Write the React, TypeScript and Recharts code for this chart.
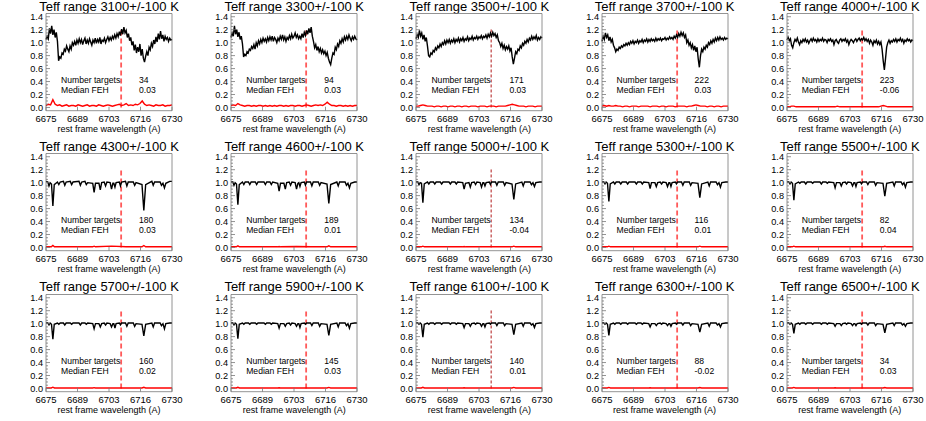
import { LineChart, Line, XAxis, YAxis, ReferenceLine } from "recharts";

// one panel per Teff bin, 5 columns x 3 rows
const temps = [3100, 3300, 3500, 3700, 4000, 4300, 4600, 5000, 5300, 5500, 5700, 5900, 6100, 6300, 6500];
const nTargets = [34, 94, 171, 222, 223, 180, 189, 134, 116, 82, 160, 145, 140, 88, 34];
const medianFeh = ["0.03", "0.03", "0.03", "0.03", "-0.06", "0.03", "0.01", "-0.04", "0.01", "0.04", "0.02", "0.03", "0.01", "-0.02", "0.03"];

const xMajor = [6675, 6688.75, 6702.5, 6716.25, 6730];
const yMajor = [0, 0.2, 0.4, 0.6, 0.8, 1.0, 1.2, 1.4];
const yMinor = [0.05, 0.1, 0.15, 0.25, 0.3, 0.35, 0.45, 0.5, 0.55, 0.65, 0.7, 0.75, 0.85, 0.9, 0.95, 1.05, 1.1, 1.15, 1.25, 1.3, 1.35];
const liLine = 6707.8;

// 0.5 A sampling for the noisy cool-star spectra, 1 A for their error curves
const fineGrid = Array.from({ length: 111 }, (_, i) => 6675 + i * 0.5);
const coarseGrid = Array.from({ length: 56 }, (_, i) => 6675 + i);

const f3100 = [
  1.05, 1.10, 1.06, 1.22, 1.14, 1.26, 1.12, 1.20, 1.08, 1.16,
  1.02, 0.72, 0.78, 0.76, 0.84, 0.82, 0.90, 0.87, 0.95, 0.90,
  0.86, 0.95, 0.90, 1.00, 0.96, 1.02, 0.96, 1.04, 0.99, 1.06,
  1.00, 1.05, 0.97, 1.03, 1.07, 0.98, 1.04, 0.99, 1.06, 1.01,
  0.96, 1.04, 1.00, 1.07, 0.99, 1.05, 1.01, 1.08, 0.98, 1.04,
  1.02, 1.07, 1.00, 1.05, 1.09, 1.03, 1.08, 1.04, 1.10, 1.06,
  1.12, 1.07, 1.14, 1.09, 1.17, 1.11, 1.21, 1.13, 1.24, 1.15,
  1.19, 1.08, 1.14, 1.03, 1.08, 0.96, 1.02, 0.88, 0.97, 0.84,
  0.93, 0.86, 0.98, 0.80, 0.90, 0.76, 0.70, 0.79, 0.86, 0.80,
  0.93, 0.89, 0.99, 0.94, 1.04, 0.98, 1.09, 1.01, 1.14, 1.05,
  1.18, 1.06, 1.12, 1.02, 1.10, 1.05, 1.08, 1.02, 1.07, 1.04, 1.05,
];
const f3300 = [
  1.08, 1.15, 1.10, 1.26, 1.13, 1.20, 1.09, 1.16, 1.05, 1.10,
  0.98, 0.78, 0.82, 0.80, 0.86, 0.84, 0.90, 0.88, 0.94, 0.91,
  0.97, 0.90, 1.00, 0.95, 1.03, 0.98, 1.05, 1.00, 1.07, 1.02,
  1.06, 1.01, 1.08, 1.03, 1.09, 1.04, 1.10, 1.02, 1.08, 1.05,
  1.00, 1.07, 1.03, 1.10, 1.05, 1.12, 1.04, 1.09, 1.02, 1.08,
  1.05, 1.11, 1.06, 1.13, 1.07, 1.10, 1.15, 1.08, 1.12, 1.06,
  1.10, 1.06, 1.14, 1.08, 1.16, 1.11, 1.19, 1.13, 1.22, 1.15,
  1.24, 1.10, 1.02, 0.92, 0.97, 0.88, 0.94, 0.86, 0.91, 0.84,
  0.89, 0.83, 0.87, 0.80, 0.85, 0.76, 0.70, 0.66, 0.76, 0.84,
  0.82, 0.93, 0.89, 0.98, 0.94, 1.03, 0.99, 1.06, 1.01, 1.09,
  1.04, 1.10, 1.05, 1.12, 1.07, 1.03, 1.09, 1.05, 1.10, 1.06, 1.04,
];
const f3500 = [
  1.06, 1.12, 1.08, 1.19, 1.10, 1.15, 1.05, 1.12, 1.02, 1.08,
  0.95, 0.80, 0.78, 0.84, 0.82, 0.88, 0.86, 0.92, 0.89, 0.95,
  0.92, 0.98, 0.94, 1.00, 0.97, 1.03, 0.98, 1.04, 1.00, 1.05,
  0.99, 1.04, 1.01, 1.06, 1.00, 1.05, 1.02, 1.07, 1.01, 1.06,
  1.03, 1.08, 1.02, 1.06, 1.04, 1.09, 1.03, 1.07, 1.05, 1.10,
  1.04, 1.08, 1.06, 1.10, 1.05, 1.09, 1.07, 1.11, 1.06, 1.10,
  1.08, 1.12, 1.07, 1.13, 1.09, 1.15, 1.10, 1.16, 1.11, 1.14,
  1.08, 1.12, 1.03, 1.00, 0.94, 0.99, 0.91, 0.96, 0.89, 0.94,
  0.90, 0.95, 0.87, 0.92, 0.78, 0.67, 0.76, 0.86, 0.83, 0.90,
  0.88, 0.95, 0.92, 0.99, 0.96, 1.02, 0.99, 1.05, 1.01, 1.07,
  1.04, 1.10, 1.05, 1.09, 1.06, 1.11, 1.04, 1.08, 1.05, 1.09, 1.07,
];
const f3700 = [
  1.02, 1.10, 1.05, 1.15, 1.08, 1.12, 1.03, 1.09, 1.01, 1.05,
  0.96, 0.92, 0.86, 0.90, 0.88, 0.93, 0.91, 0.95, 0.93, 0.97,
  0.95, 0.99, 0.96, 1.00, 0.97, 1.02, 0.99, 1.03, 0.98, 1.02,
  1.00, 1.04, 0.99, 1.03, 1.01, 1.05, 1.00, 1.04, 1.02, 1.06,
  1.01, 1.05, 1.02, 1.06, 1.03, 1.05, 1.02, 1.07, 1.03, 1.06,
  1.04, 1.07, 1.03, 1.06, 1.05, 1.08, 1.04, 1.07, 1.05, 1.09,
  1.06, 1.08, 1.05, 1.10, 1.07, 1.12, 1.08, 1.14, 1.10, 1.16,
  1.11, 1.15, 1.08, 1.12, 1.00, 1.04, 0.96, 1.00, 0.92, 0.97,
  0.88, 0.95, 0.86, 0.93, 0.75, 0.62, 0.80, 0.90, 0.86, 0.93,
  0.90, 0.96, 0.93, 1.00, 0.97, 1.03, 0.99, 1.05, 1.01, 1.07,
  1.03, 1.08, 1.04, 1.09, 1.05, 1.07, 1.04, 1.08, 1.05, 1.07, 1.06,
];
const f4000 = [
  1.04, 1.08, 1.03, 1.06, 0.96, 0.92, 1.00, 1.05, 1.02, 1.07,
  1.01, 0.97, 1.03, 1.00, 1.05, 1.02, 1.06, 1.01, 1.04, 0.99,
  1.03, 1.06, 1.02, 1.07, 1.03, 1.05, 1.01, 1.06, 1.02, 1.05,
  1.03, 1.07, 1.02, 1.05, 1.04, 1.00, 1.05, 1.03, 1.06, 1.02,
  1.04, 0.97, 1.03, 1.05, 1.01, 0.99, 1.04, 1.06, 1.02, 1.05,
  1.03, 1.06, 1.01, 1.04, 0.97, 1.02, 1.05, 1.03, 1.00, 1.04,
  1.06, 1.02, 1.05, 1.07, 1.03, 1.06, 1.04, 1.08, 1.03, 1.06,
  1.02, 1.05, 0.99, 1.04, 1.01, 0.96, 1.03, 1.00, 1.04, 0.98,
  1.02, 0.97, 1.01, 0.90, 0.72, 0.58, 0.75, 0.93, 1.00, 1.04,
  0.99, 1.03, 1.01, 1.05, 1.02, 1.06, 1.01, 1.05, 1.03, 1.07,
  1.02, 1.05, 0.99, 1.04, 1.02, 1.06, 1.03, 1.05, 1.01, 1.04, 1.03,
];

const r3100 = [
  0.03, 0.05, 0.04, 0.12, 0.05, 0.03, 0.04, 0.02, 0.03, 0.04,
  0.02, 0.03, 0.03, 0.02, 0.04, 0.03, 0.02, 0.03, 0.04, 0.02,
  0.03, 0.03, 0.02, 0.04, 0.03, 0.02, 0.03, 0.04, 0.03, 0.02,
  0.03, 0.04, 0.05, 0.03, 0.04, 0.06, 0.03, 0.04, 0.03, 0.05,
  0.04, 0.06, 0.10, 0.05, 0.03, 0.04, 0.03, 0.02, 0.04, 0.03,
  0.03, 0.04, 0.02, 0.03, 0.03, 0.04,
];
const r3300 = [
  0.03, 0.04, 0.03, 0.06, 0.04, 0.03, 0.02, 0.03, 0.03, 0.02,
  0.03, 0.02, 0.03, 0.03, 0.02, 0.03, 0.02, 0.03, 0.02, 0.03,
  0.02, 0.03, 0.03, 0.02, 0.03, 0.02, 0.03, 0.03, 0.02, 0.03,
  0.03, 0.02, 0.03, 0.04, 0.03, 0.02, 0.03, 0.04, 0.03, 0.04,
  0.03, 0.05, 0.08, 0.05, 0.03, 0.03, 0.02, 0.03, 0.03, 0.02,
  0.03, 0.02, 0.03, 0.02, 0.03, 0.03,
];
const r3500 = [
  0.02, 0.02, 0.03, 0.04, 0.03, 0.02, 0.02, 0.02, 0.01, 0.02,
  0.02, 0.01, 0.02, 0.02, 0.01, 0.02, 0.02, 0.01, 0.02, 0.02,
  0.01, 0.02, 0.02, 0.01, 0.02, 0.02, 0.02, 0.01, 0.02, 0.02,
  0.02, 0.01, 0.02, 0.02, 0.02, 0.01, 0.02, 0.02, 0.02, 0.02,
  0.03, 0.04, 0.05, 0.04, 0.03, 0.02, 0.02, 0.02, 0.01, 0.02,
  0.02, 0.02, 0.01, 0.02, 0.02, 0.02,
];
const r3700 = [
  0.02, 0.03, 0.02, 0.03, 0.02, 0.02, 0.03, 0.02, 0.02, 0.01,
  0.02, 0.02, 0.01, 0.02, 0.02, 0.02, 0.01, 0.02, 0.02, 0.02,
  0.02, 0.01, 0.02, 0.02, 0.02, 0.01, 0.02, 0.02, 0.01, 0.02,
  0.02, 0.02, 0.01, 0.02, 0.02, 0.02, 0.02, 0.01, 0.02, 0.02,
  0.03, 0.04, 0.03, 0.02, 0.02, 0.02, 0.01, 0.02, 0.02, 0.01,
  0.02, 0.02, 0.01, 0.02, 0.02, 0.02,
];
const r4000 = [
  0.01, 0.01, 0.02, 0.02, 0.01, 0.01, 0.01, 0.01, 0.01, 0.01,
  0.01, 0.01, 0.01, 0.01, 0.01, 0.01, 0.01, 0.01, 0.01, 0.01,
  0.01, 0.01, 0.02, 0.01, 0.01, 0.01, 0.01, 0.01, 0.01, 0.01,
  0.01, 0.01, 0.01, 0.01, 0.01, 0.01, 0.01, 0.01, 0.01, 0.01,
  0.01, 0.02, 0.03, 0.02, 0.01, 0.01, 0.01, 0.01, 0.01, 0.01,
  0.01, 0.01, 0.01, 0.01, 0.01, 0.01,
];

// hotter stars: continuum + line cores / shoulders
const lineGrid = [
  6675.0, 6675.8, 6676.3, 6676.8, 6677.4, 6678.0, 6678.6, 6680.0, 6680.6, 6681.2,
  6682.6, 6683.2, 6683.8, 6685.6, 6686.2, 6686.8, 6689.4, 6690.0, 6690.6, 6692.0,
  6692.6, 6693.2, 6695.4, 6696.0, 6696.6, 6698.1, 6698.7, 6699.3, 6700.4, 6701.0,
  6701.6, 6703.0, 6703.6, 6704.2, 6704.6, 6705.1, 6705.6, 6707.0, 6707.5, 6708.0,
  6709.7, 6710.3, 6710.9, 6713.1, 6713.7, 6714.3, 6716.9, 6717.7, 6718.5, 6721.2,
  6721.8, 6722.4, 6724.8, 6725.4, 6726.05, 6726.7, 6727.3, 6729.0, 6730.0,
];
const h4300 = [
  1.02, 1.01, 0.95, 1.00, 0.98, 0.64, 0.97, 1.01, 0.97, 1.01,
  1.02, 0.96, 1.01, 1.02, 0.97, 1.01, 1.02, 0.96, 1.01, 1.02,
  0.97, 1.00, 0.99, 0.85, 0.99, 0.99, 0.89, 1.00, 1.01, 0.95,
  1.01, 1.00, 0.90, 0.99, 0.99, 0.93, 1.00, 1.01, 0.95, 1.01,
  1.02, 0.95, 1.01, 1.01, 0.96, 1.00, 0.97, 0.57, 0.97, 1.02,
  0.96, 1.01, 1.01, 0.96, 0.99, 0.92, 0.99, 1.02, 1.02,
];
const h4600 = [
  1.01, 1.01, 0.96, 1.00, 0.98, 0.66, 0.97, 1.01, 0.97, 1.01,
  1.01, 0.97, 1.01, 1.01, 0.97, 1.01, 1.01, 0.97, 1.01, 1.01,
  0.97, 1.01, 0.99, 0.87, 0.99, 0.99, 0.90, 1.00, 1.01, 0.96,
  1.01, 1.00, 0.90, 0.99, 1.00, 0.94, 1.00, 1.01, 0.96, 1.01,
  1.01, 0.95, 1.01, 1.01, 0.96, 1.00, 0.98, 0.68, 0.97, 1.01,
  0.95, 1.01, 1.01, 0.96, 0.99, 0.92, 0.99, 1.01, 1.01,
];
const h5000 = [
  1.01, 1.01, 0.97, 1.00, 0.99, 0.69, 0.98, 1.01, 0.98, 1.01,
  1.01, 0.98, 1.01, 1.01, 0.98, 1.01, 1.01, 0.98, 1.01, 1.01,
  0.98, 1.01, 1.00, 0.90, 0.99, 1.00, 0.93, 1.00, 1.01, 0.97,
  1.01, 1.00, 0.93, 1.00, 1.00, 0.95, 1.00, 1.01, 0.97, 1.01,
  1.01, 0.96, 1.01, 1.01, 0.96, 1.00, 0.98, 0.74, 0.98, 1.01,
  0.95, 1.01, 1.01, 0.97, 1.00, 0.94, 1.00, 1.01, 1.01,
];
const h5300 = [
  1.01, 1.01, 0.98, 1.01, 0.99, 0.71, 0.98, 1.01, 0.98, 1.01,
  1.01, 0.98, 1.01, 1.01, 0.98, 1.01, 1.01, 0.98, 1.01, 1.01,
  0.98, 1.01, 1.00, 0.91, 1.00, 1.00, 0.94, 1.00, 1.01, 0.98,
  1.01, 1.00, 0.94, 1.00, 1.00, 0.94, 1.00, 1.01, 0.98, 1.01,
  1.01, 0.96, 1.01, 1.01, 0.96, 1.00, 0.99, 0.77, 0.98, 1.01,
  0.95, 1.01, 1.01, 0.97, 1.00, 0.93, 1.00, 1.01, 1.01,
];
const h5500 = [
  1.01, 1.01, 0.98, 1.01, 0.99, 0.73, 0.98, 1.01, 0.99, 1.01,
  1.01, 0.98, 1.01, 1.01, 0.99, 1.01, 1.01, 0.98, 1.01, 1.01,
  0.99, 1.01, 1.00, 0.92, 1.00, 1.00, 0.95, 1.00, 1.01, 0.98,
  1.01, 1.00, 0.95, 1.00, 1.00, 0.94, 1.00, 1.01, 0.98, 1.01,
  1.01, 0.97, 1.01, 1.01, 0.96, 1.00, 0.99, 0.79, 0.99, 1.01,
  0.95, 1.01, 1.01, 0.97, 1.00, 0.93, 1.00, 1.01, 1.01,
];
const h5700 = [
  1.01, 1.01, 0.98, 1.01, 0.99, 0.76, 0.99, 1.01, 0.99, 1.01,
  1.01, 0.98, 1.01, 1.01, 0.99, 1.01, 1.01, 0.98, 1.01, 1.01,
  0.99, 1.01, 1.00, 0.92, 1.00, 1.00, 0.95, 1.00, 1.01, 0.98,
  1.01, 1.00, 0.95, 1.00, 1.00, 0.93, 1.00, 1.01, 0.98, 1.01,
  1.01, 0.96, 1.01, 1.01, 0.96, 1.00, 0.99, 0.81, 0.99, 1.01,
  0.95, 1.01, 1.01, 0.97, 1.00, 0.92, 1.00, 1.01, 1.01,
];
const h5900 = [
  1.01, 1.01, 0.98, 1.01, 0.99, 0.77, 0.99, 1.01, 0.99, 1.01,
  1.01, 0.99, 1.01, 1.01, 0.99, 1.01, 1.01, 0.99, 1.01, 1.01,
  0.99, 1.01, 1.00, 0.93, 1.00, 1.00, 0.96, 1.00, 1.01, 0.98,
  1.01, 1.00, 0.96, 1.00, 1.00, 0.94, 1.00, 1.01, 0.99, 1.01,
  1.01, 0.97, 1.01, 1.01, 0.96, 1.00, 0.99, 0.82, 0.99, 1.01,
  0.95, 1.01, 1.01, 0.97, 1.00, 0.93, 1.00, 1.01, 1.01,
];
const h6100 = [
  1.01, 1.01, 0.99, 1.01, 0.99, 0.79, 0.99, 1.01, 0.99, 1.01,
  1.01, 0.99, 1.01, 1.01, 0.99, 1.01, 1.01, 0.99, 1.01, 1.01,
  0.99, 1.01, 1.00, 0.94, 1.00, 1.00, 0.96, 1.00, 1.01, 0.99,
  1.01, 1.00, 0.96, 1.00, 1.00, 0.95, 1.00, 1.01, 0.99, 1.01,
  1.01, 0.97, 1.01, 1.01, 0.97, 1.00, 0.99, 0.83, 0.99, 1.01,
  0.96, 1.01, 1.01, 0.98, 1.00, 0.94, 1.00, 1.01, 1.01,
];
const h6300 = [
  1.01, 1.01, 0.99, 1.01, 0.99, 0.82, 0.99, 1.01, 0.99, 1.01,
  1.01, 0.99, 1.01, 1.01, 0.99, 1.01, 1.01, 0.99, 1.01, 1.01,
  0.99, 1.01, 1.00, 0.95, 1.00, 1.00, 0.97, 1.00, 1.01, 0.99,
  1.01, 1.00, 0.97, 1.00, 1.00, 0.96, 1.00, 1.01, 0.99, 1.01,
  1.01, 0.98, 1.01, 1.01, 0.97, 1.00, 0.99, 0.87, 0.99, 1.01,
  0.96, 1.01, 1.01, 0.98, 1.00, 0.95, 1.00, 1.01, 1.01,
];
const h6500 = [
  1.01, 1.01, 0.99, 1.01, 0.99, 0.85, 0.99, 1.01, 0.99, 1.01,
  1.01, 0.99, 1.01, 1.01, 0.99, 1.01, 1.01, 0.99, 1.01, 1.01,
  0.99, 1.01, 1.00, 0.96, 1.00, 1.00, 0.97, 1.00, 1.01, 0.99,
  1.01, 1.00, 0.97, 1.00, 1.00, 0.97, 1.00, 1.01, 0.99, 1.01,
  1.01, 0.98, 1.01, 1.01, 0.97, 1.00, 0.99, 0.86, 0.99, 1.01,
  0.97, 1.01, 1.01, 0.98, 1.00, 0.96, 1.00, 1.01, 1.01,
];

const errGrid = [6675, 6677.3, 6678.0, 6678.7, 6686, 6695.4, 6696.0, 6696.6, 6703.6, 6710, 6716.9, 6717.7, 6718.5, 6724, 6730];
const e4300 = [0.01, 0.01, 0.03, 0.01, 0.01, 0.01, 0.02, 0.01, 0.02, 0.01, 0.01, 0.03, 0.01, 0.01, 0.01];
const e4600 = [0.01, 0.01, 0.025, 0.01, 0.01, 0.01, 0.015, 0.01, 0.015, 0.01, 0.01, 0.025, 0.01, 0.01, 0.01];
const e5000 = [0.01, 0.01, 0.02, 0.01, 0.01, 0.01, 0.015, 0.01, 0.01, 0.01, 0.01, 0.02, 0.01, 0.01, 0.01];
const e5300 = [0.01, 0.01, 0.02, 0.01, 0.01, 0.01, 0.012, 0.01, 0.01, 0.01, 0.01, 0.02, 0.01, 0.01, 0.01];
const e5500 = [0.01, 0.01, 0.02, 0.01, 0.01, 0.01, 0.012, 0.01, 0.01, 0.01, 0.01, 0.018, 0.01, 0.01, 0.01];
const e5700 = [0.008, 0.008, 0.02, 0.008, 0.008, 0.008, 0.012, 0.008, 0.008, 0.008, 0.008, 0.018, 0.008, 0.008, 0.008];
const e5900 = [0.008, 0.008, 0.018, 0.008, 0.008, 0.008, 0.01, 0.008, 0.008, 0.008, 0.008, 0.016, 0.008, 0.008, 0.008];
const e6100 = [0.008, 0.008, 0.018, 0.008, 0.008, 0.008, 0.01, 0.008, 0.008, 0.008, 0.008, 0.016, 0.008, 0.008, 0.008];
const e6300 = [0.008, 0.008, 0.016, 0.008, 0.008, 0.008, 0.01, 0.008, 0.008, 0.008, 0.008, 0.014, 0.008, 0.008, 0.008];
const e6500 = [0.008, 0.008, 0.016, 0.008, 0.008, 0.008, 0.01, 0.008, 0.008, 0.008, 0.008, 0.014, 0.008, 0.008, 0.008];

const pts = (xs: number[], ys: number[]) => ys.map((y, i) => ({ x: xs[i], y }));

const spectra = [
  pts(fineGrid, f3100), pts(fineGrid, f3300), pts(fineGrid, f3500), pts(fineGrid, f3700), pts(fineGrid, f4000),
  pts(lineGrid, h4300), pts(lineGrid, h4600), pts(lineGrid, h5000), pts(lineGrid, h5300), pts(lineGrid, h5500),
  pts(lineGrid, h5700), pts(lineGrid, h5900), pts(lineGrid, h6100), pts(lineGrid, h6300), pts(lineGrid, h6500),
];
const errors = [
  pts(coarseGrid, r3100), pts(coarseGrid, r3300), pts(coarseGrid, r3500), pts(coarseGrid, r3700), pts(coarseGrid, r4000),
  pts(errGrid, e4300), pts(errGrid, e4600), pts(errGrid, e5000), pts(errGrid, e5300), pts(errGrid, e5500),
  pts(errGrid, e5700), pts(errGrid, e5900), pts(errGrid, e6100), pts(errGrid, e6300), pts(errGrid, e6500),
];

const COL_W = 185.2;
const ROW_H = 140.33;
const frame = "#777";
const font = "'Liberation Sans', Arial, sans-serif";

const isMajorX = (v: number) => xMajor.includes(v);
const isMajorY = (v: number) => yMajor.includes(v);

const BottomTick = (props: any) => {
  const { x, y, payload } = props;
  const major = isMajorX(payload.value);
  return (
    <g>
      <line x1={x} x2={x} y1={y} y2={y - (major ? 4 : 2)} stroke={frame} strokeWidth={0.8} />
      {major && (
        <text x={x} y={y + 11.5} textAnchor="middle" fontSize={9.5} fill="#000">
          {Math.round(payload.value)}
        </text>
      )}
    </g>
  );
};
const TopTick = (props: any) => {
  const { x, y, payload } = props;
  const major = isMajorX(payload.value);
  return <line x1={x} x2={x} y1={y} y2={y + (major ? 4 : 2)} stroke={frame} strokeWidth={0.8} />;
};
const LeftTick = (props: any) => {
  const { x, y, payload } = props;
  const major = isMajorY(payload.value);
  return (
    <g>
      <line x1={x} x2={x + (major ? 4 : 2)} y1={y} y2={y} stroke={frame} strokeWidth={0.8} />
      {major && (
        <text x={x - 3} y={y + 3.3} textAnchor="end" fontSize={9.2} fill="#000">
          {payload.value.toFixed(1)}
        </text>
      )}
    </g>
  );
};
const RightTick = (props: any) => {
  const { x, y, payload } = props;
  const major = isMajorY(payload.value);
  return <line x1={x} x2={x - (major ? 4 : 2)} y1={y} y2={y} stroke={frame} strokeWidth={0.8} />;
};

function Panel({ idx }: { idx: number }) {
  const col = idx % 5;
  const row = Math.floor(idx / 5);
  const thinLi = col === 2;
  const txt = { position: "absolute" as const, fontSize: 8.6, lineHeight: "10px", whiteSpace: "nowrap" as const };
  const yTicks = [...yMajor, ...yMinor];
  const axisProps = { tickSize: 0, tickMargin: 0, tickLine: false, interval: 0 as const, axisLine: { stroke: frame, strokeWidth: 0.8 } };
  return (
    <div style={{ position: "absolute", left: col * COL_W, top: row * ROW_H, width: 185, height: 140 }}>
      <div style={{ position: "absolute", left: 0, width: 218, top: -1.5, textAlign: "center", fontSize: 13, lineHeight: "15px", whiteSpace: "nowrap" }}>
        {`Teff range ${temps[idx]}+/-100 K`}
      </div>
      <LineChart width={185} height={140} margin={{ top: 12.5, right: 12, bottom: 28.3, left: 45 }}>
        <XAxis xAxisId="b" type="number" dataKey="x" domain={[6675, 6730]} ticks={xMajor} height={1} tick={BottomTick} {...axisProps} />
        <XAxis xAxisId="t" orientation="top" type="number" dataKey="x" domain={[6675, 6730]} ticks={xMajor} height={1} tick={TopTick} {...axisProps} />
        <YAxis yAxisId="l" type="number" domain={[-0.05, 1.45]} ticks={yTicks} width={1} tick={LeftTick} {...axisProps} />
        <YAxis yAxisId="r" orientation="right" type="number" domain={[-0.05, 1.45]} ticks={yTicks} width={1} tick={RightTick} {...axisProps} />
        <ReferenceLine xAxisId="b" yAxisId="l"
          segment={[{ x: liLine, y: 0 }, { x: liLine, y: 1.23 }]}
          stroke={thinLi ? "#b01818" : "#ff5a5a"} strokeWidth={thinLi ? 1 : 1.8}
          strokeDasharray={thinLi ? "3 2" : "5 3"} ifOverflow="visible" />
        <Line xAxisId="b" yAxisId="l" data={errors[idx]} dataKey="y" type="linear" stroke="#ff0000"
          strokeWidth={1.4} dot={false} activeDot={false} isAnimationActive={false} />
        <Line xAxisId="b" yAxisId="l" data={spectra[idx]} dataKey="y" type="linear" stroke="#000"
          strokeWidth={1.4} dot={false} activeDot={false} isAnimationActive={false} />
      </LineChart>
      <div style={{ ...txt, left: 61, top: 75 }}>Number targets</div>
      <div style={{ ...txt, left: 139, top: 75 }}>{nTargets[idx]}</div>
      <div style={{ ...txt, left: 61, top: 85 }}>Median FEH</div>
      <div style={{ ...txt, left: 139, top: 85 }}>{medianFeh[idx]}</div>
      <div style={{ ...txt, fontSize: 9, left: 0, width: 218, textAlign: "center", top: 124 }}>rest frame wavelength (A)</div>
    </div>
  );
}

export default function App() {
  return (
    <div style={{ position: "absolute", left: 0, top: 0, width: 926, height: 421, background: "#fff", overflow: "hidden", fontFamily: font, color: "#000" }}>
      {temps.map((_, i) => (
        <Panel key={i} idx={i} />
      ))}
    </div>
  );
}
